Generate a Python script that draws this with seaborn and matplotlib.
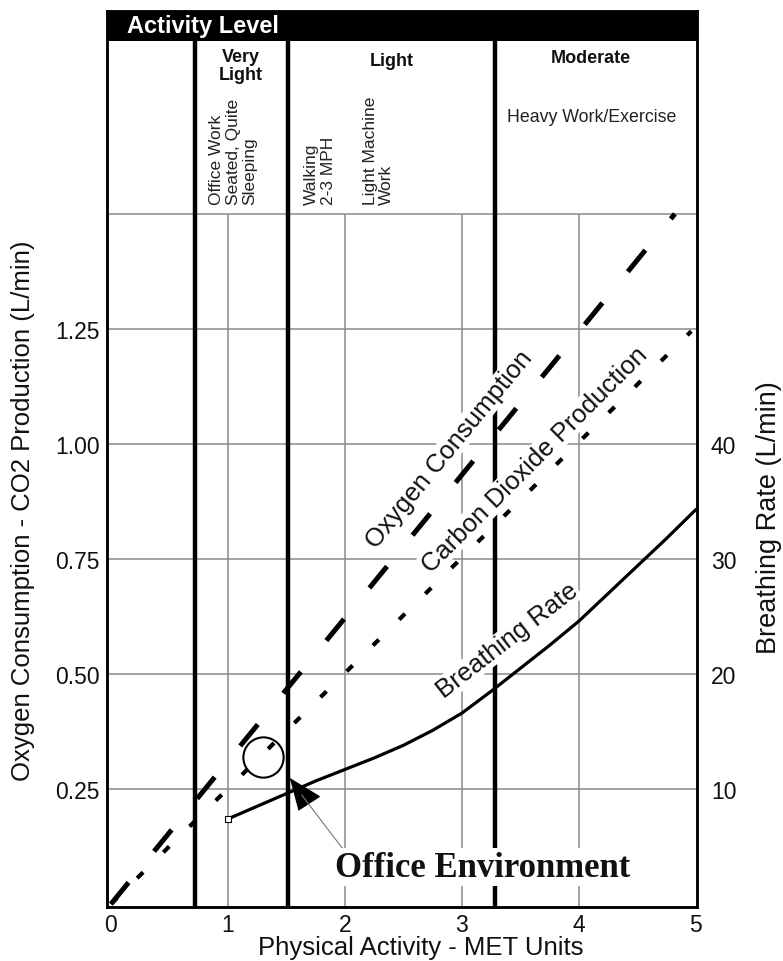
import matplotlib
matplotlib.use("Agg")
import matplotlib.pyplot as plt
import seaborn as sns
import pandas as pd

# ---------------- data ----------------
met_o2 = [0.0, 1.0, 2.0, 3.0, 4.0, 4.82]
o2 = [0.0, 0.311, 0.622, 0.933, 1.244, 1.50]
met_co2 = [0.0, 1.0, 2.0, 3.0, 4.0, 4.96]
co2 = [0.0, 0.251, 0.502, 0.753, 1.004, 1.245]
met_br = [1.0, 1.25, 1.5, 1.75, 2.0, 2.25, 2.5, 2.75, 3.0, 3.25, 3.5, 3.75,
          4.0, 4.25, 4.5, 4.75, 5.0]
br = [7.4, 8.5, 9.6, 10.7, 11.7, 12.7, 13.8, 15.1, 16.6, 18.5, 20.5, 22.5,
      24.6, 27.0, 29.4, 31.8, 34.3]

activity_bounds = [0.72, 1.51, 3.28]
x_ticks = [0, 1, 2, 3, 4, 5]
y_ticks = [0.25, 0.50, 0.75, 1.00, 1.25]
y_tick_labels = ["0.25", "0.50", "0.75", "1.00", "1.25"]
br_ticks = [10, 20, 30, 40]
grid_x = [1, 2, 3, 4]
grid_y = [0.25, 0.50, 0.75, 1.00, 1.25, 1.50]

levels = ["Very\nLight", "Light", "Moderate"]
level_x = [1.11, 2.40, 4.10]
level_y = [1.822, 1.833, 1.841]
examples = ["Office Work\nSeated, Quite\nSleeping", "Walking\n2-3 MPH", "Light Machine\nWork"]
example_x = [0.838, 1.65, 2.15]
office_point = (1.63, 0.237)
office_circle = (1.30, 0.32)

# ---------------- style ----------------
sns.set_theme(style="white")
plt.rcParams["font.family"] = ["Liberation Sans", "DejaVu Sans"]
plt.rcParams["lines.scale_dashes"] = False

W, H = 783, 962
fig = plt.figure(figsize=(W / 100, H / 100), dpi=100)
ax = fig.add_axes([107 / W, 54 / H, 590 / W, 896 / H])
ax2 = ax.twinx()

XL = (-0.034, 5.009)
YL = (-0.0065, 1.941)
HEAD = 1.876
ax.set_xlim(*XL)
ax.set_ylim(*YL)
ax2.set_ylim(YL[0] * 40, YL[1] * 40)

grid_c = "#8a8a8a"
ax.hlines(grid_y, XL[0], XL[1], color=grid_c, lw=1.1, zorder=1)
ax.vlines(grid_x, YL[0], 1.5, color=grid_c, lw=1.1, zorder=1)
ax.vlines(activity_bounds, YL[0], HEAD, color="black", lw=3.2, zorder=2)
ax.axhspan(HEAD, YL[1], color="black", zorder=3, lw=0)

# data lines
df_o2 = pd.DataFrame({"met": met_o2, "val": o2})
df_co2 = pd.DataFrame({"met": met_co2, "val": co2})
df_br = pd.DataFrame({"met": met_br, "val": br})
sns.lineplot(data=df_o2, x="met", y="val", ax=ax, color="black", lw=3.6,
             linestyle=(0, (20, 29)), zorder=4)
sns.lineplot(data=df_co2, x="met", y="val", ax=ax, color="black", lw=3.0,
             linestyle=(0, (6, 20.5)), zorder=4)
sns.lineplot(data=df_br, x="met", y="val", ax=ax2, color="black", lw=2.3, zorder=4)
ax2.plot([met_br[0]], [br[0]], marker="s", ms=5, mfc="white", mec="black",
         mew=0.8, ls="none", zorder=5)

# office environment marker
ax.plot([office_circle[0]], [office_circle[1]], marker="o", ms=29, mfc="none",
        mec="black", mew=1.5, ls="none", zorder=5)
tri = [(-12, 16), (16, -1), (-4, -14)]
ax2.plot([office_point[0]], [office_point[1]], marker=tri, ms=24, color="black",
         ls="none", zorder=6, transform=ax.transData)
ax2.annotate("Office Environment", xy=office_point, xycoords=ax.transData,
             xytext=(3.18, 0.08), textcoords=ax.transData,
             ha="center", va="center", fontsize=25, fontweight="bold",
             family=["Liberation Serif", "DejaVu Serif"], color="#111",
             bbox=dict(fc="white", ec="none", pad=2), zorder=7,
             arrowprops=dict(arrowstyle="-", color="#777", lw=0.8,
                             relpos=(0.03, 1.0), shrinkA=0, shrinkB=0))

# curve labels
lab_kw = dict(fontsize=18.5, color="#111", ha="center", va="center",
              rotation_mode="anchor", transform=ax.transData, zorder=7,
              bbox=dict(fc="white", ec="none", pad=0.5))
ax2.text(2.89, 0.99, "Oxygen Consumption", rotation=50.6, **lab_kw)
ax2.text(3.62, 0.967, "Carbon Dioxide Production", rotation=45.0, **lab_kw)
ax2.text(3.39, 0.574, "Breathing Rate", rotation=37.8, **lab_kw)

# header
ax.text(0.14, 1.909, "Activity Level", color="white", fontsize=17,
        fontweight="bold", ha="left", va="center", zorder=6)
for lx, ly, s in zip(level_x, level_y, levels):
    ax.text(lx, ly, s, ha="center", va="center", fontsize=13,
            fontweight="bold", color="#111", linespacing=1.1, zorder=6)
ax.text(4.11, 1.711, "Heavy Work/Exercise", ha="center", va="center",
        fontsize=12.8, color="#222", zorder=6)
for ex, s in zip(example_x, examples):
    ax.text(ex, 1.522, s, rotation=90, ha="left", va="bottom",
            multialignment="left", fontsize=12.5, color="#222",
            linespacing=1.15, zorder=6)

# axes decoration
ax.set_xticks(x_ticks)
ax.set_xticklabels([str(t) for t in x_ticks])
ax.set_yticks(y_ticks)
ax.set_yticklabels(y_tick_labels)
ax2.set_yticks(br_ticks)
ax2.set_yticklabels([str(t) for t in br_ticks])
ax.tick_params(axis="x", length=0, pad=4, labelsize=16.5, labelcolor="#111")
ax.tick_params(axis="y", length=0, pad=5, labelsize=16.5, labelcolor="#111")
ax2.tick_params(axis="y", length=0, pad=10, labelsize=16.5, labelcolor="#111")
ax.grid(False)
ax2.grid(False)

ax.set_xlabel("Physical Activity - MET Units", fontsize=18.5, color="#111")
ax.set_ylabel("Oxygen Consumption - CO2 Production (L/min)", fontsize=18.5, color="#111")
ax2.set_ylabel("Breathing Rate (L/min)", fontsize=19.5, color="#111")
ax.xaxis.set_label_coords(0.531, -0.0315)
ax.yaxis.set_label_coords(-0.122, 0.443)
ax2.yaxis.set_label_coords(1.100, 0.436)

for a in (ax, ax2):
    for sp in a.spines.values():
        sp.set_color("black")
        sp.set_linewidth(1.8)
        sp.set_visible(True)

fig.savefig("out.png", dpi=100, facecolor="white")
